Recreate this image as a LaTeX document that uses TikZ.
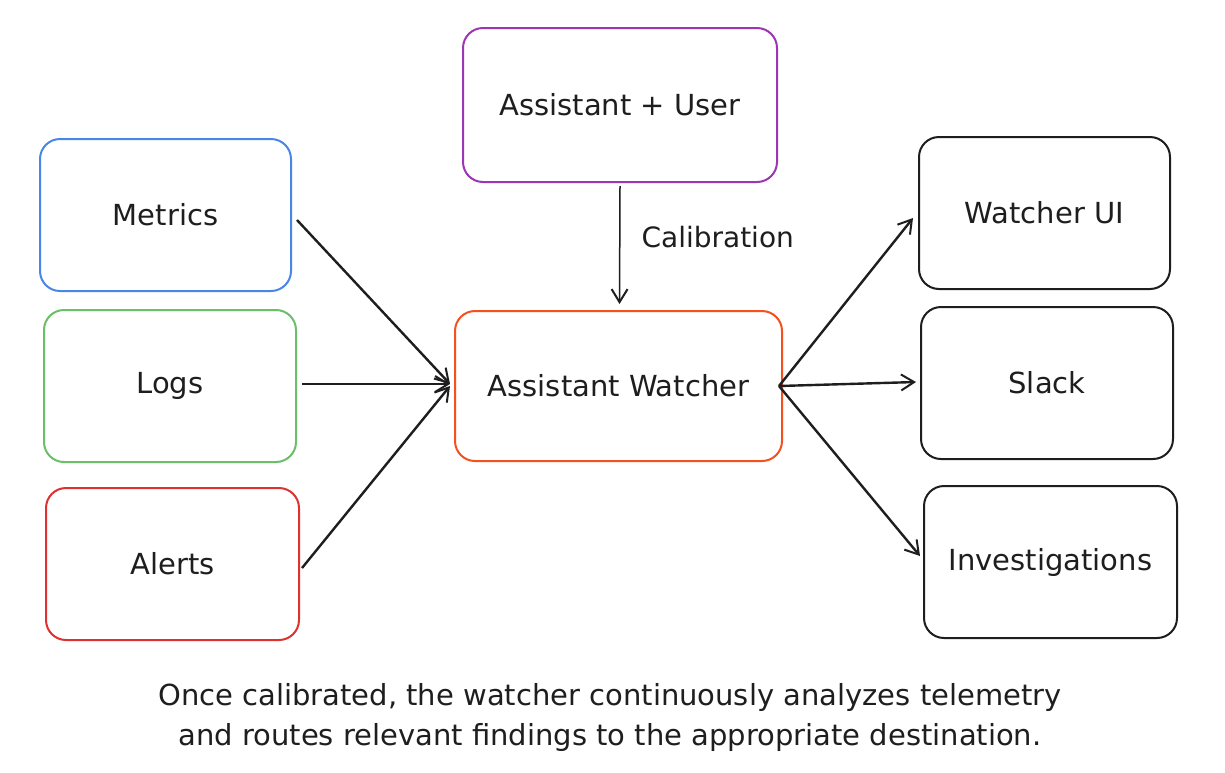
\documentclass[tikz,border=0pt]{standalone}
\usepackage{fontspec}
\setmainfont{DejaVu Sans}
\usetikzlibrary{arrows.meta,calc}
\definecolor{cblue}{HTML}{4A86E8}
\definecolor{cgreen}{HTML}{6ABF69}
\definecolor{cred}{HTML}{E03131}
\definecolor{cpurple}{HTML}{9C36B5}
\definecolor{corange}{HTML}{F4511E}
\definecolor{cink}{HTML}{1E1E1E}
\begin{document}
\begin{tikzpicture}[x=1pt,y=-1pt,
  box/.style={draw, line width=2pt, rounded corners=20pt, fill=white, font=\fontsize{29}{32}\selectfont, text=cink},
  arr/.style={-{Straight Barb[length=13pt,width=16pt,line width=2pt]}, line width=2.4pt, draw=cink},
  lbl/.style={font=\fontsize{28}{30}\selectfont, text=cink}]
\useasboundingbox (0,0) rectangle (1225,772);
\fill[white] (0,0) rectangle (1225,772);
\node[box, draw=cblue, minimum width=251pt, minimum height=152pt] (metrics) at (165.5,215) {Metrics};
\node[box, draw=cgreen, minimum width=252pt, minimum height=152pt] (logs) at (170,386) {Logs};
\node[box, draw=cred, minimum width=253pt, minimum height=152pt] (alerts) at (172.5,564) {Alerts};
\node[box, draw=cpurple, minimum width=314pt, minimum height=154pt] (user) at (620,105) {Assistant + User};
\node[box, draw=corange, minimum width=327pt, minimum height=150pt] (watcher) at (618.5,386) {Assistant Watcher};
\node[box, draw=cink, minimum width=251pt, minimum height=152pt] (ui) at (1044.5,213) {Watcher UI};
\node[box, draw=cink, minimum width=252pt, minimum height=152pt] (slack) at (1047,383) {Slack};
\node[box, draw=cink, minimum width=253pt, minimum height=152pt] (inv) at (1050.5,562) {Investigations};
\coordinate (win) at (450,384);
\coordinate (win2) at (450,386);
\coordinate (wout) at (779,386);
\draw[arr] ($(metrics.east)+(5,5)$) -- (win);
\draw[arr] ($(logs.east)+(5,-2)$) -- (win);
\draw[arr] ($(alerts.east)+(2,4)$) -- (win2);
\draw[arr, line width=1.5pt] ($(user.south)+(0,3)$) -- ($(watcher.north)+(1,-6)$);
\node[lbl, anchor=west] (cal) at (638,237) {Calibration};
\draw[arr] (wout) -- ($(ui.west)+(-5,5)$);
\draw[arr] (wout) -- ($(slack.west)+(-4,-1)$);
\draw[arr] (wout) -- ($(inv.west)+(-3,-6)$);
\node[font=\fontsize{29}{40}\selectfont, text=cink, align=center] (cap) at (610,717) {Once calibrated, the watcher continuously analyzes telemetry\\and routes relevant findings to the appropriate destination.};
\end{tikzpicture}
\end{document}
